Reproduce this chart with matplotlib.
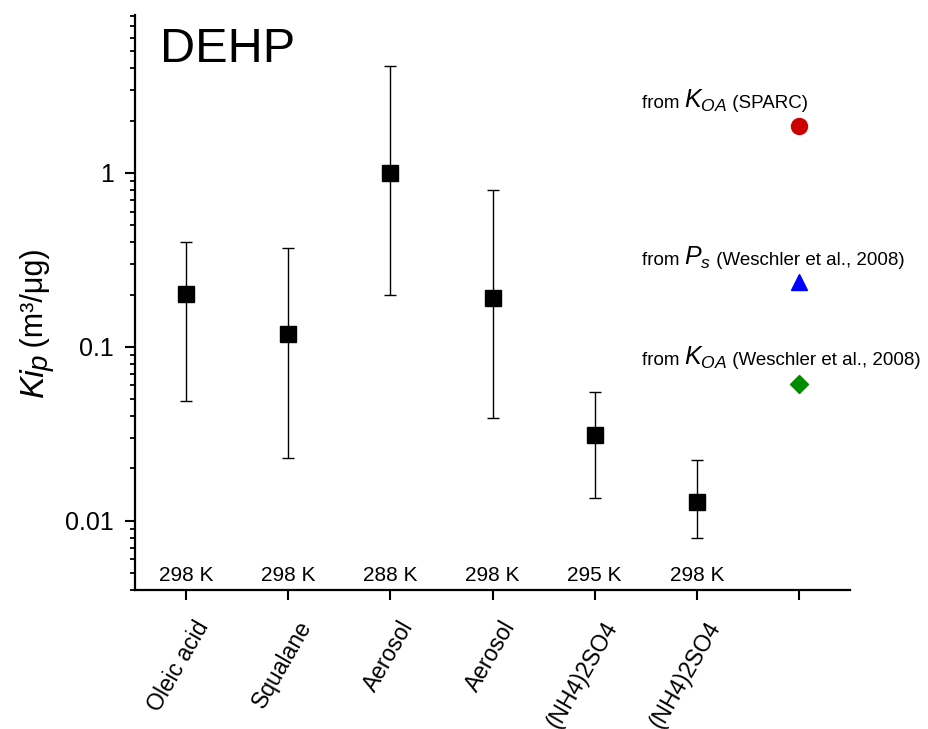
import numpy as np
import matplotlib
matplotlib.use('Agg')
import matplotlib.pyplot as plt
from matplotlib.transforms import ScaledTranslation

plt.rcParams['font.family'] = ['Liberation Sans', 'DejaVu Sans']
plt.rcParams['mathtext.fontset'] = 'custom'
plt.rcParams['mathtext.rm'] = 'Liberation Sans'
plt.rcParams['mathtext.it'] = 'Liberation Sans:italic'
plt.rcParams['mathtext.bf'] = 'Liberation Sans:bold'

# Measured Kip values (m3/ug) with lower / upper error limits
categories = ['Oleic acid', 'Squalane', 'Aerosol', 'Aerosol', '(NH4)2SO4', '(NH4)2SO4']
temperatures = ['298 K', '298 K', '288 K', '298 K', '295 K', '298 K']
kip = [0.202, 0.119, 1.0, 0.192, 0.0312, 0.0129]
kip_low = [0.049, 0.023, 0.20, 0.039, 0.0136, 0.0080]
kip_high = [0.40, 0.37, 4.1, 0.80, 0.055, 0.0223]

# Estimated values, all drawn at the extra 7th position
est_values = [1.86, 0.236, 0.0615]
est_markers = ['o', '^', 'D']
est_colors = ['#cc0000', '#0000ff', '#008c00']
est_sizes = [11.5, 12, 9]
est_labels = [('from ', r'$K_{OA}$', ' (SPARC)'),
              ('from ', r'$P_s$', ' (Weschler et al., 2008)'),
              ('from ', r'$K_{OA}$', ' (Weschler et al., 2008)')]
est_label_y = [2.36, 0.296, 0.0788]

fig = plt.figure(figsize=(9.29, 7.29), dpi=100)
ax = fig.add_axes([0.1453, 0.1907, 0.7697, 0.7887])

x = np.arange(len(categories))
yerr = [np.array(kip) - np.array(kip_low), np.array(kip_high) - np.array(kip)]
ax.errorbar(x, kip, yerr=yerr, fmt='s', color='black', markersize=11.5,
            ecolor='black', elinewidth=1.0, capsize=4.5, capthick=1.0)

x_est = len(categories)
for v, m, c, s in zip(est_values, est_markers, est_colors, est_sizes):
    ax.plot(x_est, v, marker=m, color=c, markersize=s, linestyle='none')

ax.set_yscale('log')
ax.set_ylim(0.004, 8.1)
ax.set_xlim(-0.5, 6.5)
ax.set_yticks([0.01, 0.1, 1])
ax.set_yticklabels(['0.01', '0.1', '1'])
ax.set_xticks(np.arange(len(categories) + 1))
ax.set_xticklabels(categories + [''])

for side in ['top', 'right']:
    ax.spines[side].set_visible(False)
for side in ['left', 'bottom']:
    ax.spines[side].set_linewidth(1.6)

ax.tick_params(axis='y', which='major', length=7, width=1.5, labelsize=18, pad=8)
ax.tick_params(axis='y', which='minor', length=3.6, width=1.3)
ax.tick_params(axis='x', which='major', length=7.5, width=1.5, labelsize=16.5, pad=12)
shift = ScaledTranslation(0.08, 0, fig.dpi_scale_trans)
for lab in ax.get_xticklabels():
    lab.set_rotation(60)
    lab.set_ha('right')
    lab.set_va('top')
    lab.set_rotation_mode('anchor')
    lab.set_transform(lab.get_transform() + shift)

# temperatures along the bottom of the plot area
for xi, t in zip(x, temperatures):
    ax.text(xi, 0.015, t, transform=ax.get_xaxis_transform(), ha='center',
            va='baseline', fontsize=15)

ax.text(0.035, 0.918, 'DEHP', transform=ax.transAxes, fontsize=35, va='baseline')

# annotation labels for the estimated values, pieces chained on one baseline
for (p1, p2, p3), ly in zip(est_labels, est_label_y):
    t1 = ax.text(4.46, ly, p1, fontsize=13.5, va='baseline', ha='left')
    t2 = ax.annotate(p2, xy=(1, ly), xycoords=(t1, 'data'), fontsize=18,
                     va='baseline', ha='left')
    ax.annotate(p3, xy=(1, ly), xycoords=(t2, 'data'), fontsize=13.5,
                va='baseline', ha='left')

# y label: "Ki", lowered "p", then the unit
ylx = 0.046
yl1 = fig.text(ylx, 0.455, 'Ki', style='italic', rotation=90, rotation_mode='anchor',
               ha='left', va='baseline', fontsize=24)
yl2 = ax.annotate('p', xy=(ylx, 1), xycoords=(fig.transFigure, yl1),
                  xytext=(4, -2.5), textcoords='offset points', style='italic',
                  rotation=90, rotation_mode='anchor', ha='left', va='baseline',
                  fontsize=20)
ax.annotate(' (m³/μg)', xy=(ylx, 1), xycoords=(fig.transFigure, yl2),
            rotation=90, rotation_mode='anchor', ha='left', va='baseline',
            fontsize=22)

fig.savefig('out.png', dpi=100)
